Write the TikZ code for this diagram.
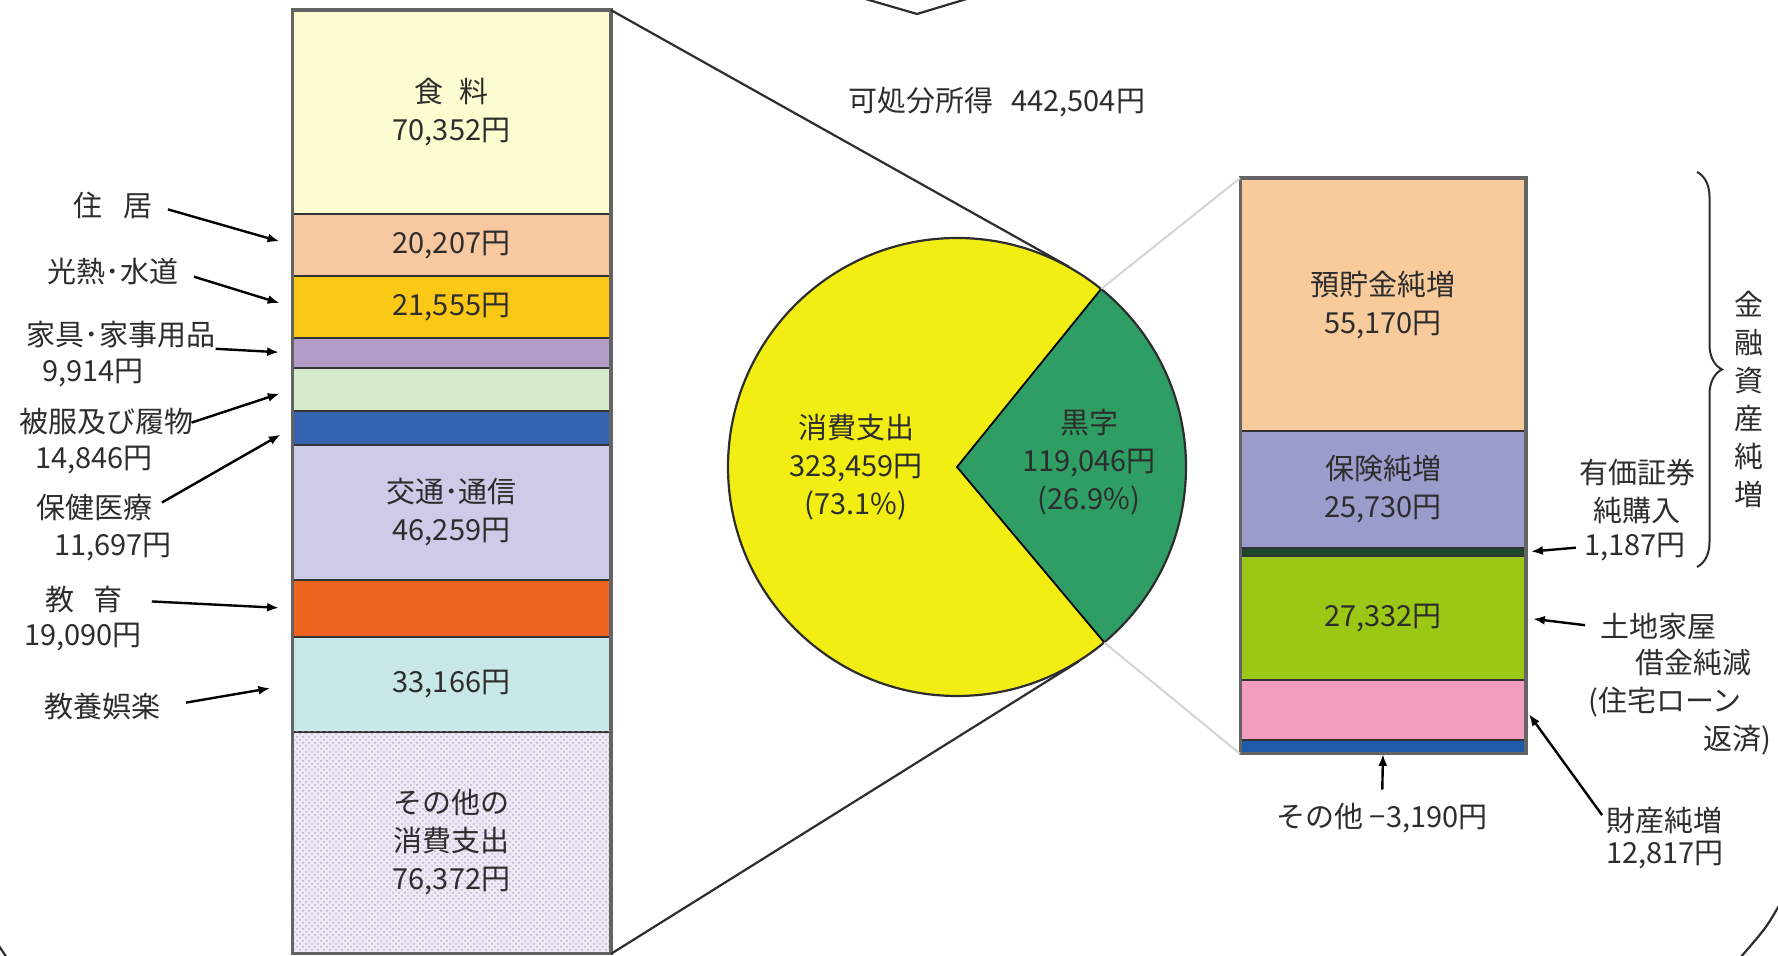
\documentclass[tikz,border=0pt]{standalone}
\usepackage{fontspec}
\setmainfont{Noto Sans CJK JP}
\usepackage{tikz}
\usetikzlibrary{arrows.meta,calc,patterns,decorations.pathreplacing,positioning}
\definecolor{Ink}{RGB}{45,45,45}
\definecolor{SegLine}{RGB}{50,50,50}
\definecolor{FrameGray}{RGB}{100,100,100}
\definecolor{Faint}{RGB}{212,212,212}
\definecolor{Food}{RGB}{253,252,208}
\definecolor{Housing}{RGB}{248,200,160}
\definecolor{Utility}{RGB}{252,200,22}
\definecolor{Furniture}{RGB}{180,156,200}
\definecolor{Clothing}{RGB}{212,234,202}
\definecolor{Health}{RGB}{52,100,175}
\definecolor{Transport}{RGB}{204,204,232}
\definecolor{Education}{RGB}{236,100,30}
\definecolor{Culture}{RGB}{200,232,232}
\definecolor{OtherBg}{RGB}{238,233,245}
\definecolor{OtherDot}{RGB}{190,175,215}
\definecolor{PieYellow}{RGB}{242,238,20}
\definecolor{PieGreen}{RGB}{46,158,100}
\definecolor{Savings}{RGB}{248,203,156}
\definecolor{Insure}{RGB}{154,156,204}
\definecolor{Secur}{RGB}{28,72,44}
\definecolor{Land}{RGB}{154,200,20}
\definecolor{Prop}{RGB}{242,156,192}
\definecolor{Misc}{RGB}{30,90,168}

\begin{document}
\begin{tikzpicture}[x=0.5pt,y=0.5pt,
  lab/.style={font=\fontsize{14.5pt}{19pt}\selectfont,text=Ink,inner sep=0pt,align=center},
  bar/.style={draw=SegLine,line width=0.9pt,inner sep=0pt},
  seg/.style={bar,lab,minimum width=158.5pt},
  rseg/.style={bar,lab,minimum width=142pt},
  frame/.style={draw=FrameGray,line width=1.6pt},
  arr/.style={-{Latex[length=6pt,width=4.5pt]},line width=1.2pt,draw=black,shorten <=8pt,shorten >=6.5pt},
  link/.style={line width=1.1pt,draw=Ink}]
\useasboundingbox (0,0) rectangle (1778,956);
%
% consumption bar
\node[seg,fill=Food,minimum height=101.5pt] (food) at (451.5,843.5) {食\hspace{0.55em}料\\70,352円};
\node[seg,fill=Housing,minimum height=31pt] (housing) at (451.5,711) {20,207円};
\node[seg,fill=Utility,minimum height=31pt] (utility) at (451.5,649) {21,555円};
\node[bar,fill=Furniture,minimum width=158.5pt,minimum height=15pt] (furniture) at (451.5,603) {};
\node[bar,fill=Clothing,minimum width=158.5pt,minimum height=21.5pt] (clothing) at (451.5,566.5) {};
\node[bar,fill=Health,minimum width=158.5pt,minimum height=17pt] (health) at (451.5,528) {};
\node[seg,fill=Transport,minimum height=67.5pt] (transport) at (451.5,443.5) {交通･通信\\46,259円};
\node[bar,fill=Education,minimum width=158.5pt,minimum height=28.5pt] (education) at (451.5,347.5) {};
\node[seg,fill=Culture,minimum height=47.5pt] (culture) at (451.5,271.5) {33,166円};
\node[seg,fill=OtherBg,postaction={pattern=crosshatch dots,pattern color=OtherDot},minimum height=110.5pt] (other) at (451.5,113.5) {その他の\\消費支出\\76,372円};
\draw[frame] (food.north west) rectangle (other.south east);
%
% labels on the left
\node[lab] (houselab) at (113,751) {住\hspace{0.7em}居};
\node[lab] (utillab) at (113,684) {光熱･水道};
\node[lab] (furnlab) at (121,621) {家具･家事用品};
\node[lab] (furnval) at (93,583) {9,914円};
\node[lab] (clothlab) at (106,534) {被服及び履物};
\node[lab] (clothval) at (94,496) {14,846円};
\node[lab] (healthlab) at (94,448) {保健医療};
\node[lab] (healthval) at (113,409) {11,697円};
\node[lab] (edulab) at (84,356) {教\hspace{0.65em}育};
\node[lab] (eduval) at (83,319) {19,090円};
\node[lab] (culturelab) at (102,249) {教養娯楽};
\draw[arr] (houselab.east) -- (housing.west);
\draw[arr] (utillab.east) -- (utility.west);
\draw[arr,shorten <=0pt] (furnlab.south east) -- (furniture.west);
\draw[arr,shorten <=-1pt] (clothlab.east) -- (clothing.west);
\draw[arr,shorten <=5.5pt] (healthlab.east) -- (health.west);
\draw[arr,shorten <=14.5pt] (edulab.east) -- (education.west);
\draw[arr,shorten <=13pt,shorten >=11pt] (culturelab.east) -- (culture.west);
%
% pie
\node[circle,minimum size=229pt,inner sep=0pt] (pie) at (957,489) {};
\fill[PieYellow] (pie.center) -- (pie.51) arc[start angle=51,end angle=310,radius=229] -- cycle;
\fill[PieGreen] (pie.center) -- (pie.-50) arc[start angle=-50,end angle=51,radius=229] -- cycle;
\draw[line width=0.9pt,black] (pie.51) -- (pie.center) -- (pie.-50);
\draw[link] (pie.center) circle[radius=229];
\node[lab] (spend) at (856,489) {消費支出\\323,459円\\(73.1\%)};
\node[lab] (surplus) at (1089,494) {黒字\\119,046円\\(26.9\%)};
\node[lab] (income) at (997,854) {可処分所得\hspace{0.6em}442,504円};
\draw[link] (food.north east) -- (tangent cs:node=pie,point={(food.north east)},solution=2);
\draw[link] (other.south east) -- (tangent cs:node=pie,point={(other.south east)},solution=1);
%
% surplus bar
\node[rseg,fill=Savings,minimum height=126pt] (savings) at (1383,651) {預貯金純増\\55,170円};
\node[rseg,fill=Insure,minimum height=58.5pt] (insurance) at (1383,466.5) {保険純増\\25,730円};
\node[bar,fill=Secur,minimum width=142pt,minimum height=4pt] (securities) at (1383,404) {};
\node[rseg,fill=Land,minimum height=62pt] (land) at (1383,338) {27,332円};
\node[bar,fill=Prop,minimum width=142pt,minimum height=30pt] (property) at (1383,246) {};
\node[bar,fill=Misc,minimum width=142pt,minimum height=6.5pt] (misc) at (1383,209.5) {};
\draw[frame] (savings.north west) rectangle (misc.south east);
\draw[Faint,line width=1pt] (pie.51) -- (savings.north west);
\draw[Faint,line width=1pt] (pie.-50) -- (misc.south west);
%
% labels on the right
\draw[decorate,decoration={brace,amplitude=12.5pt},line width=1pt,Ink] (1697,784) -- (1697,389);
\node[lab] (finlab) at (1749,556.5) {金\\融\\資\\産\\純\\増};
\node[lab] (seclab) at (1637,465) {有価証券\\純購入};
\node[lab] (secval) at (1635,409) {1,187円};
\draw[arr,shorten <=4pt,shorten >=2.5pt] (secval.west) -- (securities.east);
\node[lab,anchor=west] (landlab) at (1600,329) {土地家屋};
\node[lab,anchor=west] (debtlab) at (1635,293) {借金純減};
\node[lab,anchor=west] (loanlab) at (1588,254) {(住宅ローン};
\node[lab,anchor=west] (repaylab) at (1703,216) {返済)};
\draw[arr,shorten <=7.5pt,shorten >=3.5pt] (landlab.west) -- (land.east);
\node[lab] (misclab) at (1382,138) {その他 −3,190円};
\draw[arr,shorten <=6.5pt,shorten >=0pt] (misclab.north) -- (misc.south);
\node[lab] (proplab) at (1664,136) {財産純増};
\node[lab] (propval) at (1665,101) {12,817円};
\draw[arr,shorten <=3pt,shorten >=2.5pt] (proplab.west) -- (property.east);
%
% cut-off frame edges
\draw[link] (862,958) -- (917,942) -- (970,958);
\draw[link] (1780,52) .. controls (1766,28) .. (1740,-2);
\draw[link] (-1,10) -- (7,-2);
\end{tikzpicture}
\end{document}
